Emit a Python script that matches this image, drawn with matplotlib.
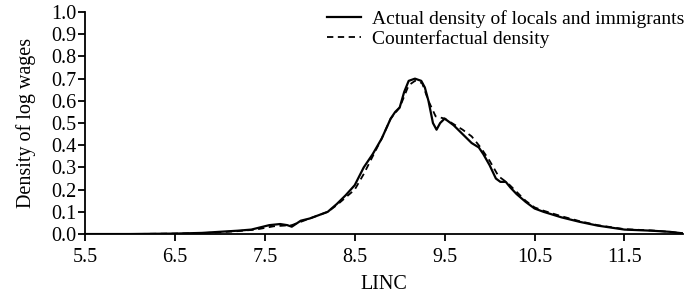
import matplotlib
matplotlib.use('Agg')
import matplotlib.pyplot as plt

plt.rcParams['font.family'] = ['Liberation Serif', 'DejaVu Serif']

# actual density (solid)
x_act = [5.5, 6.0, 6.5, 6.8, 7.0, 7.2, 7.35, 7.45, 7.55, 7.67, 7.75, 7.8, 7.9, 8.0, 8.1, 8.2,
         8.3, 8.4, 8.5, 8.6, 8.7, 8.8, 8.9, 8.95, 9.0, 9.05, 9.1, 9.17, 9.24, 9.28, 9.32, 9.37,
         9.41, 9.45, 9.5, 9.6, 9.7, 9.8, 9.88, 9.93, 10.0, 10.07, 10.12, 10.18, 10.23, 10.3,
         10.4, 10.5, 10.6, 10.8, 11.0, 11.2, 11.5, 11.8, 12.0, 12.15]
y_act = [0, 0, 0.002, 0.005, 0.01, 0.015, 0.02, 0.03, 0.04, 0.045, 0.04, 0.033, 0.06, 0.07,
         0.085, 0.10, 0.135, 0.175, 0.22, 0.30, 0.36, 0.43, 0.52, 0.55, 0.57, 0.64, 0.69, 0.70,
         0.69, 0.66, 0.60, 0.50, 0.47, 0.50, 0.52, 0.49, 0.45, 0.41, 0.39, 0.36, 0.31, 0.25,
         0.235, 0.235, 0.21, 0.18, 0.145, 0.115, 0.10, 0.075, 0.055, 0.038, 0.02, 0.015, 0.01, 0.003]

# counterfactual density (dashed)
x_cf = [5.5, 6.0, 6.5, 6.8, 7.0, 7.2, 7.4, 7.6, 7.8, 7.9, 8.0, 8.1, 8.2, 8.3, 8.4, 8.5, 8.6,
        8.7, 8.8, 8.9, 9.0, 9.1, 9.17, 9.25, 9.32, 9.4, 9.5, 9.6, 9.7, 9.8, 9.9, 10.0, 10.1,
        10.2, 10.3, 10.4, 10.5, 10.6, 10.8, 11.0, 11.2, 11.5, 11.8, 12.0, 12.15]
y_cf = [0, 0, 0.002, 0.004, 0.008, 0.013, 0.02, 0.035, 0.04, 0.055, 0.07, 0.085, 0.10, 0.13,
        0.165, 0.20, 0.27, 0.35, 0.43, 0.52, 0.57, 0.67, 0.69, 0.68, 0.60, 0.53, 0.52, 0.495,
        0.47, 0.44, 0.39, 0.33, 0.26, 0.23, 0.19, 0.15, 0.12, 0.105, 0.08, 0.058, 0.04, 0.022,
        0.016, 0.01, 0.003]

xticks = [5.5, 6.5, 7.5, 8.5, 9.5, 10.5, 11.5]
yticks = [0.0, 0.1, 0.2, 0.3, 0.4, 0.5, 0.6, 0.7, 0.8, 0.9, 1.0]

fig = plt.figure(figsize=(6.85, 2.94), dpi=100)
ax = fig.add_axes([0.124, 0.204, 0.873, 0.755])

ax.plot(x_act, y_act, color='black', lw=1.6, label='Actual density of locals and immigrants')
ax.plot(x_cf, y_cf, color='black', lw=1.3, linestyle=(0, (3.5, 2.5)), label='Counterfactual density')

ax.set_xlim(5.5, 12.15)
ax.set_ylim(0, 1.0)
ax.set_xticks(xticks)
ax.set_xticklabels([str(t) for t in xticks])
ax.set_yticks(yticks)
ax.set_yticklabels(['%.1f' % t for t in yticks])
ax.tick_params(labelsize=14.5, direction='out', length=5, width=1.3)
ax.tick_params(axis='y', pad=1)
ax.tick_params(axis='x', pad=5)
for s in ['top', 'right']:
    ax.spines[s].set_visible(False)
for s in ['left', 'bottom']:
    ax.spines[s].set_linewidth(1.3)

ax.set_xlabel('LINC', fontsize=14.5, labelpad=6)
ax.set_ylabel('Density of log wages', fontsize=14.5, labelpad=11)

ax.legend(loc='upper right', bbox_to_anchor=(1.016, 1.045), frameon=False, fontsize=14,
          handlelength=1.75, handletextpad=0.6, labelspacing=0.1, borderaxespad=0)

fig.savefig('out.png', dpi=100)
